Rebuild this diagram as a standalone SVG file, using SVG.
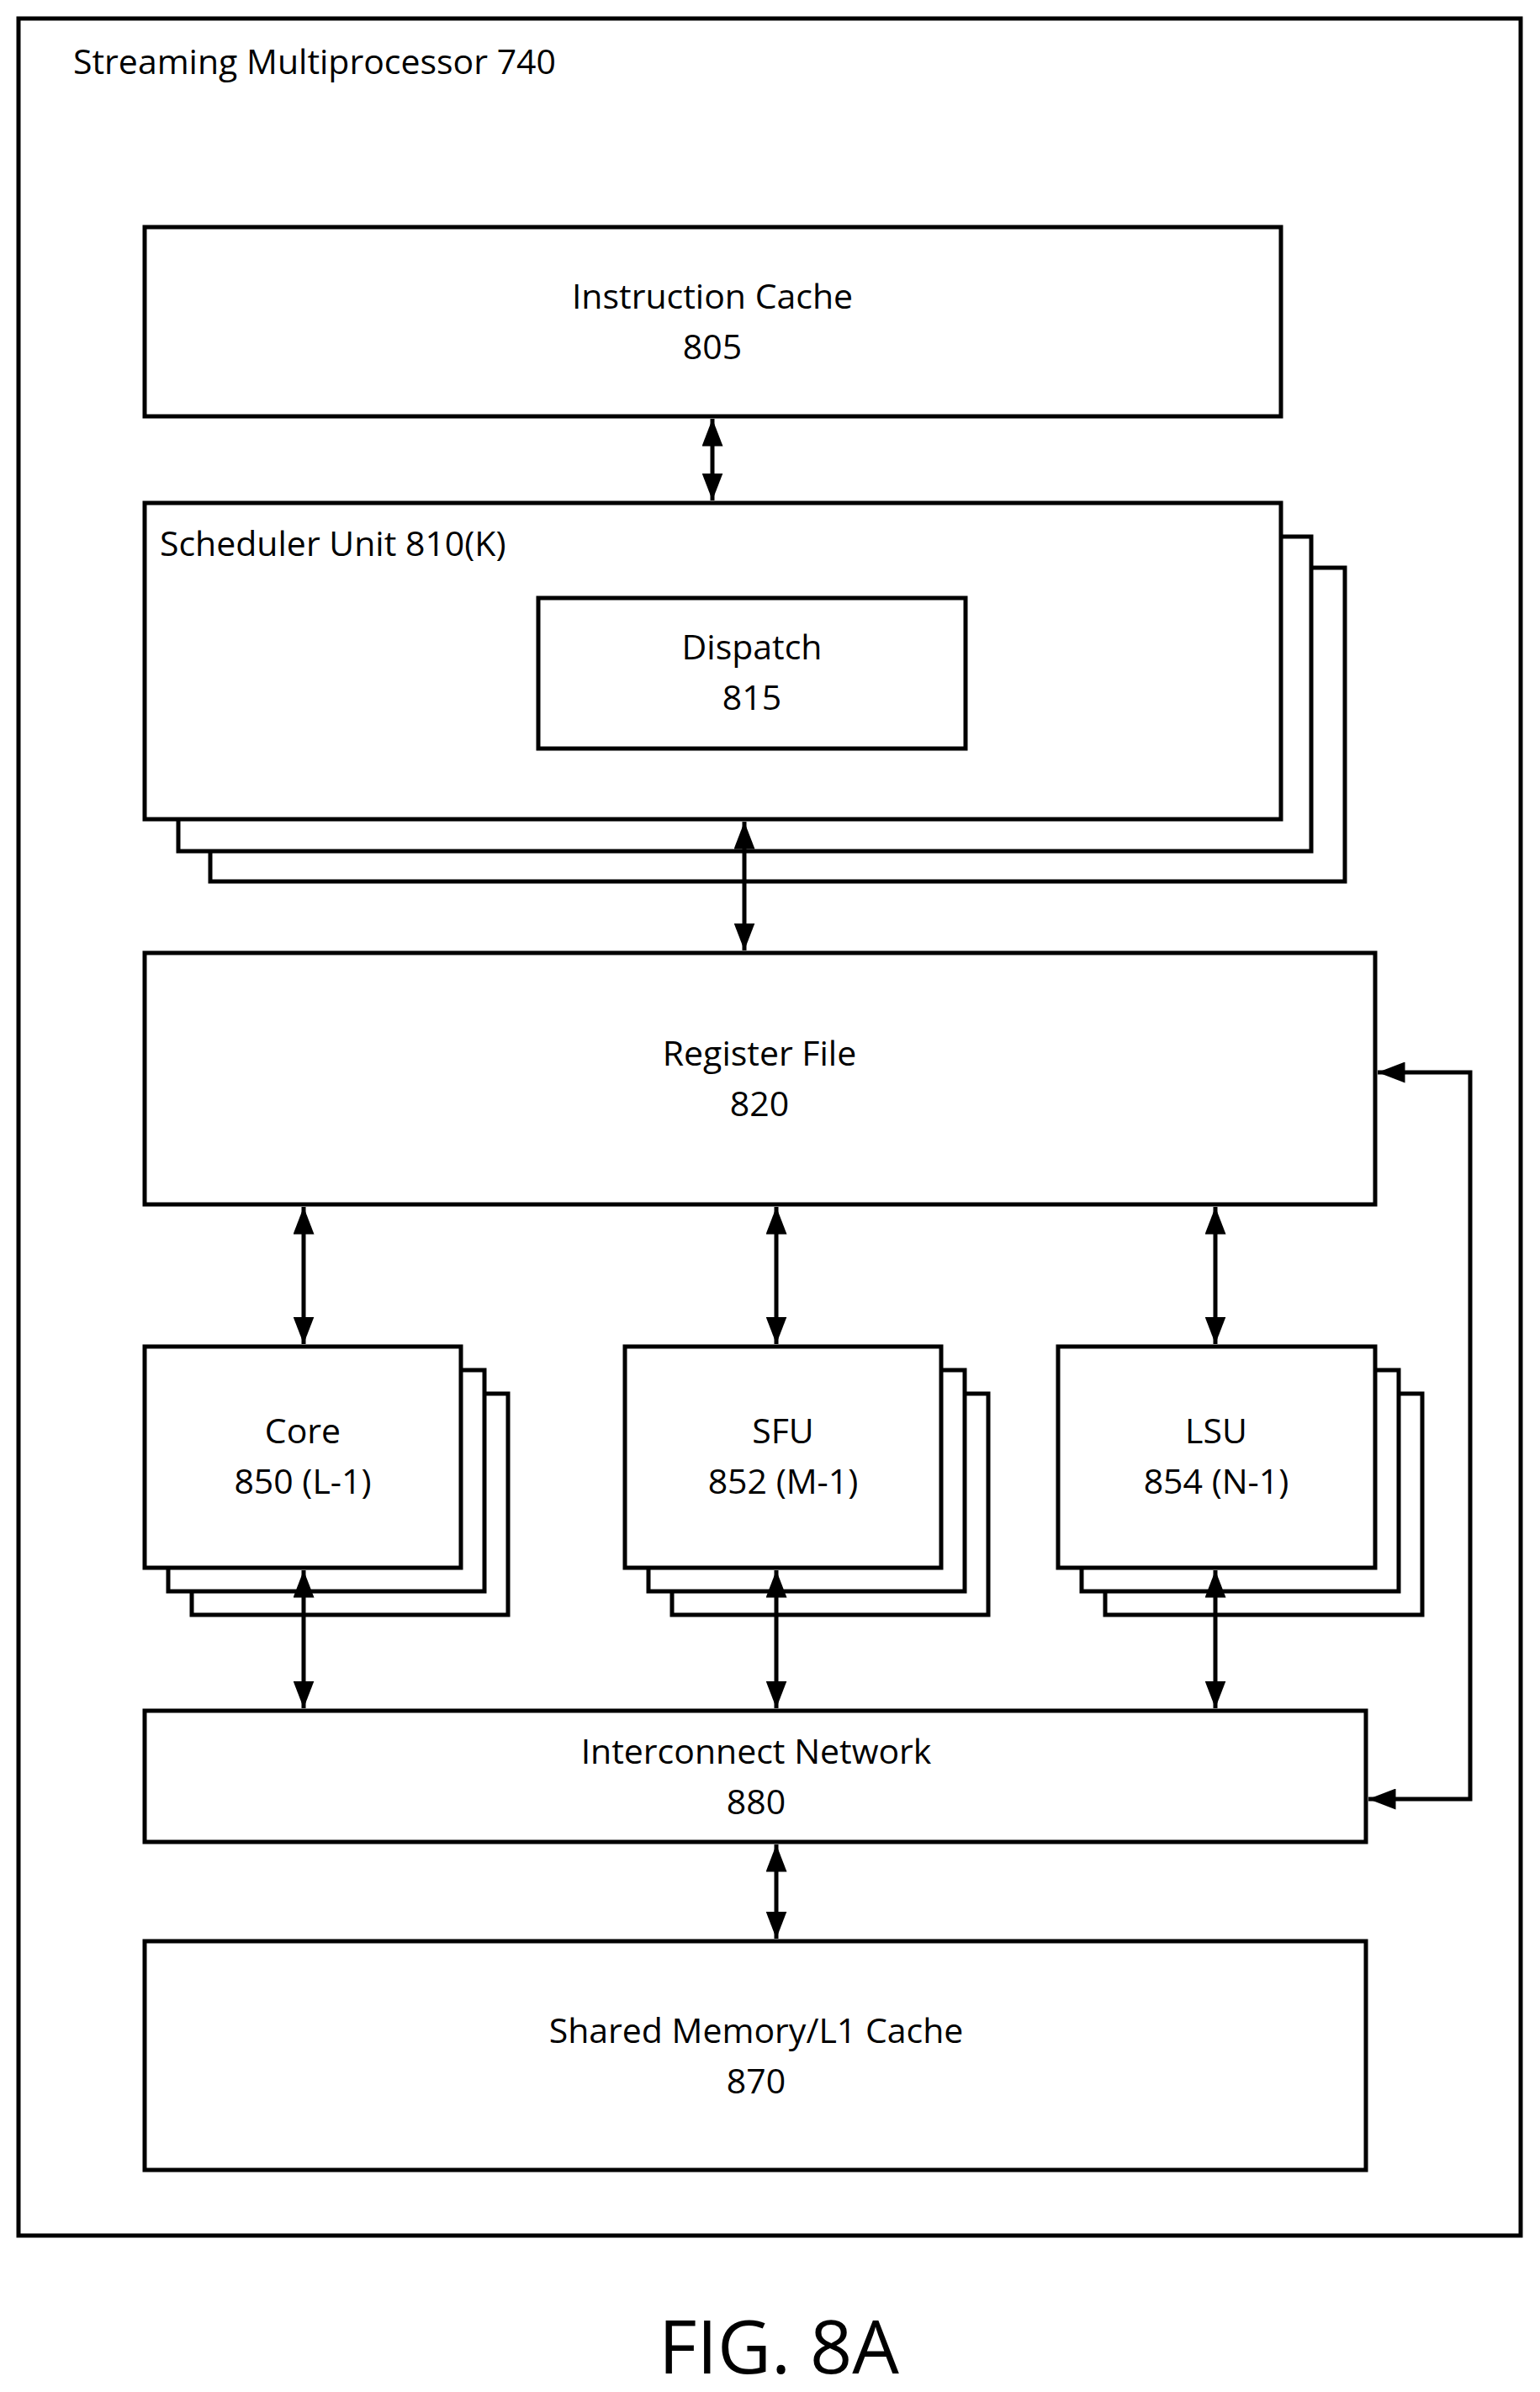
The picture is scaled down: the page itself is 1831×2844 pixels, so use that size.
<svg xmlns="http://www.w3.org/2000/svg" width="1831" height="2844" viewBox="0 0 1831 2844">
<style>
rect{fill:#fff;stroke:#000;stroke-width:5}
text{font-family:"Open Sans","Liberation Sans",sans-serif;font-size:41px;fill:#000;text-anchor:middle}
.c line,.c polyline{stroke:#000;stroke-width:5;fill:none}
</style>
<defs>
<marker id="a" viewBox="0 0 10 10" refX="10" refY="5" markerWidth="6.5" markerHeight="5" orient="auto-start-reverse" markerUnits="strokeWidth" preserveAspectRatio="none"><path d="M0,0L10,5L0,10z" fill="#000"/></marker>
</defs>
<g id="sm"><rect x="22" y="22" width="1786" height="2636"/><text x="87" y="88" style="text-anchor:start">Streaming Multiprocessor 740</text></g>
<g id="icache"><rect x="172" y="270" width="1351" height="225"/><text x="847" y="367">Instruction Cache</text><text x="847" y="427">805</text></g>
<g id="sched"><rect x="250" y="675" width="1349" height="373"/><rect x="212" y="638" width="1347" height="374"/><rect x="172" y="598" width="1351" height="376"/><text x="190" y="661" style="text-anchor:start">Scheduler Unit 810(K)</text></g>
<g id="dispatch"><rect x="640" y="711" width="508" height="179"/><text x="894" y="784">Dispatch</text><text x="894" y="844">815</text></g>
<g id="regfile"><rect x="172" y="1133" width="1463" height="299"/><text x="903" y="1267">Register File</text><text x="903" y="1327">820</text></g>
<g id="core"><rect x="228" y="1657" width="376" height="263"/><rect x="200" y="1629" width="376" height="263"/><rect x="172" y="1601" width="376" height="263"/><text x="360" y="1716">Core</text><text x="360" y="1776">850 (L-1)</text></g>
<g id="sfu"><rect x="799" y="1657" width="376" height="263"/><rect x="771" y="1629" width="376" height="263"/><rect x="743" y="1601" width="376" height="263"/><text x="931" y="1716">SFU</text><text x="931" y="1776">852 (M-1)</text></g>
<g id="lsu"><rect x="1314" y="1657" width="377" height="263"/><rect x="1286" y="1629" width="377" height="263"/><rect x="1258" y="1601" width="377" height="263"/><text x="1446" y="1716">LSU</text><text x="1446" y="1776">854 (N-1)</text></g>
<g id="icn"><rect x="172" y="2034" width="1452" height="156"/><text x="899" y="2097">Interconnect Network</text><text x="899" y="2157">880</text></g>
<g id="smem"><rect x="172" y="2308" width="1452" height="272"/><text x="899" y="2429">Shared Memory/L1 Cache</text><text x="899" y="2489">870</text></g>
<g class="c" id="connectors">
<line x1="847" y1="498" x2="847" y2="595" marker-start="url(#a)" marker-end="url(#a)"/>
<line x1="885" y1="977" x2="885" y2="1130" marker-start="url(#a)" marker-end="url(#a)"/>
<line x1="361" y1="1435" x2="361" y2="1598" marker-start="url(#a)" marker-end="url(#a)"/>
<line x1="923" y1="1435" x2="923" y2="1598" marker-start="url(#a)" marker-end="url(#a)"/>
<line x1="1445" y1="1435" x2="1445" y2="1598" marker-start="url(#a)" marker-end="url(#a)"/>
<line x1="361" y1="1867" x2="361" y2="2031" marker-start="url(#a)" marker-end="url(#a)"/>
<line x1="923" y1="1867" x2="923" y2="2031" marker-start="url(#a)" marker-end="url(#a)"/>
<line x1="1445" y1="1867" x2="1445" y2="2031" marker-start="url(#a)" marker-end="url(#a)"/>
<line x1="923" y1="2193" x2="923" y2="2305" marker-start="url(#a)" marker-end="url(#a)"/>
<polyline points="1638,1275 1748,1275 1748,2139 1627,2139" marker-start="url(#a)" marker-end="url(#a)"/>
</g>
<text x="926" y="2822" style="font-size:88px">FIG. 8A</text>
</svg>
